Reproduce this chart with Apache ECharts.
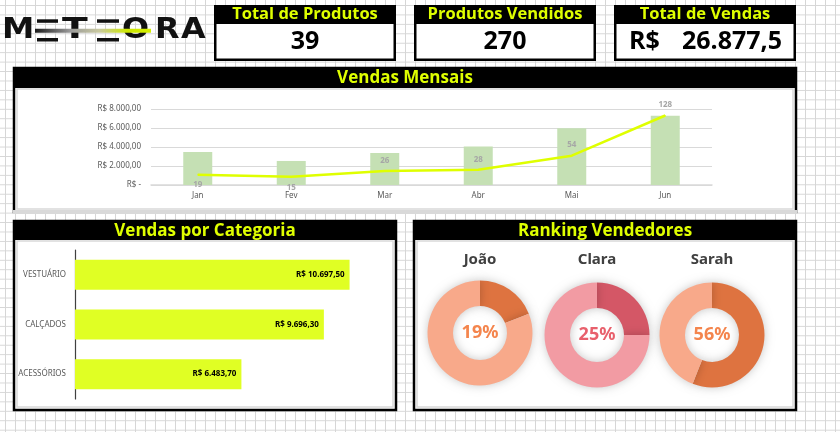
<!DOCTYPE html>
<html>
<head>
<meta charset="utf-8">
<script src="https://cdn.jsdelivr.net/npm/echarts@6/dist/echarts.min.js"></script>
<style>
html,body{margin:0;padding:0;}
#wrap{width:840px;height:432px;position:relative;background-color:#fff;
background-image:linear-gradient(to right,#d6d6d6 1px,transparent 1px),linear-gradient(to bottom,#d6d6d6 1px,transparent 1px);
background-size:10px 9.45px;background-position:5px 5px;}
#chart{width:840px;height:432px;position:absolute;left:0;top:0;}
</style>
</head>
<body>
<div id="wrap"><div id="chart"></div></div>
<script>
// ---- data ----
const kpiTitles = ['Total de Produtos', 'Produtos Vendidos', 'Total de Vendas'];
const kpiValues = ['39', '270', '26.877,5'];
const months = ['Jan', 'Fev', 'Mar', 'Abr', 'Mai', 'Jun'];
const monthlySales = [3480, 2530, 3370, 4040, 5970, 7300];
const monthlyQty = [19, 15, 26, 28, 54, 128];
const salesTicks = [0, 2000, 4000, 6000, 8000];
const categories = ['VESTUÁRIO', 'CALÇADOS', 'ACESSÓRIOS'];
const categorySales = [10697.5, 9696.3, 6483.7];
const sellers = ['João', 'Clara', 'Sarah'];
const sellerShare = [19, 25, 56];

// ---- helpers ----
function brl(v, dec) {
  const fixed = v.toFixed(dec);
  let [i, d] = fixed.split('.');
  i = i.replace(/\B(?=(\d{3})+(?!\d))/g, '.');
  return d ? i + ',' + d : i;
}
const YEL = '#DFFF00';
const HEAD_FONT = '"Open Sans", sans-serif';
const LBL_FONT = '"Noto Sans", "Liberation Sans", sans-serif';

const graphics = [];
// KPI boxes
const kpiBoxes = [[214, 182], [414, 182], [614, 182]];
kpiBoxes.forEach(([x, w], i) => {
  graphics.push({type: 'rect', shape: {x: x, y: 5, width: w, height: 56}, style: {fill: '#000'}});
  graphics.push({type: 'rect', shape: {x: x + 2.5, y: 24, width: w - 5, height: 34.5}, style: {fill: '#fff'}});
  graphics.push({type: 'text', x: x + w / 2, y: 14.5, style: {text: kpiTitles[i], fill: YEL, font: 'bold 16.5px ' + HEAD_FONT, align: 'center', verticalAlign: 'middle'}});
});
graphics.push({type: 'text', x: 305, y: 42, style: {text: kpiValues[0], fill: '#000', font: 'bold 25px ' + HEAD_FONT, align: 'center', verticalAlign: 'middle'}});
graphics.push({type: 'text', x: 505, y: 42, style: {text: kpiValues[1], fill: '#000', font: 'bold 25px ' + HEAD_FONT, align: 'center', verticalAlign: 'middle'}});
graphics.push({type: 'text', x: 629, y: 42, style: {text: 'R$', fill: '#000', font: 'bold 25px ' + HEAD_FONT, align: 'left', verticalAlign: 'middle'}});
graphics.push({type: 'text', x: 782, y: 42, style: {text: kpiValues[2], fill: '#000', font: 'bold 25px ' + HEAD_FONT, align: 'right', verticalAlign: 'middle'}});

// Logo
const logoLetters = [['M', 2, 1.12], ['T', 62, 1.3], ['O', 122, 1.1], ['R', 155, 1.1], ['A', 181, 1.1]];
logoLetters.forEach(([ch, x, sx]) => {
  graphics.push({type: 'text', x: x, y: 30.5, scaleX: sx, style: {text: ch, fill: '#111', font: 'bold 29px "DejaVu Sans", sans-serif', align: 'left', verticalAlign: 'middle'}});
});
[[37, 21], [97, 22]].forEach(([x, w]) => {
  graphics.push({type: 'rect', shape: {x: x, y: 19.3, width: w, height: 3.5}, style: {fill: '#111'}});
  graphics.push({type: 'rect', shape: {x: x, y: 38, width: w, height: 3.5}, style: {fill: '#111'}});
});
graphics.push({type: 'rect', shape: {x: 35, y: 28.8, width: 116, height: 4}, style: {
  fill: new echarts.graphic.LinearGradient(0, 0, 1, 0, [
    {offset: 0, color: '#1a1a1a'}, {offset: 0.3, color: '#9a9a9a'}, {offset: 0.55, color: '#c8c8a0'}, {offset: 0.8, color: '#cde800'}, {offset: 1, color: '#d4ef00'}])}});

// Section panels
function panel(x, y, w, h, title, bandH, bottomColor) {
  graphics.push({type: 'rect', shape: {x: x, y: y, width: w, height: h}, style: {fill: '#fff', stroke: '#000', lineWidth: 2.5}});
  graphics.push({type: 'rect', shape: {x: x + 3, y: y + bandH + 1, width: w - 6, height: h - bandH - 4}, style: {fill: '#fff', stroke: '#d9d9d9', lineWidth: 1.5}});
  if (bottomColor) graphics.push({type: 'rect', shape: {x: x - 1, y: y + h - 2, width: w + 2, height: 4}, style: {fill: bottomColor}});
  graphics.push({type: 'rect', shape: {x: x, y: y, width: w, height: bandH}, style: {fill: '#000'}});
  graphics.push({type: 'text', x: x + w / 2, y: y + bandH / 2 + 0.5, style: {text: title, fill: YEL, font: 'bold 17px ' + HEAD_FONT, align: 'center', verticalAlign: 'middle'}});
}
panel(14, 68, 782, 144, 'Vendas Mensais', 20, '#d9d9d9');
panel(14, 221, 382, 189, 'Vendas por Categoria', 19, null);
panel(414, 221, 382, 189, 'Ranking Vendedores', 19, null);

// seller names
const pieCenters = [[480, 333], [597, 335], [712, 335]];
sellers.forEach((s, i) => {
  graphics.push({type: 'text', x: pieCenters[i][0], y: 260, style: {text: s, fill: '#404040', font: 'bold 15px ' + LBL_FONT, align: 'center', verticalAlign: 'middle'}});
});

const pieColors = [['#DE7340', '#F8A98A'], ['#D45766', '#F29BA3'], ['#DE7340', '#F8A98A']];
const pieTextColors = ['#F4854D', '#E8606C', '#F4854D'];
const pies = sellers.map((s, i) => ({
  type: 'pie', center: pieCenters[i], radius: [27, 52.5], startAngle: 90, clockwise: true,
  silent: true, animation: false, z: 3,
  itemStyle: {shadowBlur: 10, shadowColor: 'rgba(0,0,0,0.22)', borderWidth: 0},
  labelLine: {show: false},
  data: [
    {value: sellerShare[i], name: s, itemStyle: {color: pieColors[i][0]},
     label: {show: true, position: 'center', formatter: sellerShare[i] + '%', color: pieTextColors[i], fontSize: 18, fontWeight: 'bold', fontFamily: LBL_FONT}},
    {value: 100 - sellerShare[i], name: 'Outros', itemStyle: {color: pieColors[i][1]}, label: {show: false}}
  ]
}));

const qtyLabelPos = ['bottom', 'bottom', 'top', 'top', 'top', 'top'];

const option = {
  animation: false,
  graphic: {elements: graphics},
  grid: [
    {left: 151, right: 128, top: 109, bottom: 247},
    {left: 75, right: 457, top: 250, bottom: 33}
  ],
  xAxis: [
    {type: 'category', gridIndex: 0, data: months, z: 1,
     axisLine: {lineStyle: {color: '#d9d9d9', width: 1.5}}, axisTick: {show: false},
     axisLabel: {color: '#595959', fontSize: 8, fontFamily: LBL_FONT, margin: 7}},
    {type: 'value', gridIndex: 1, min: 0, max: 12000, show: false}
  ],
  yAxis: [
    {type: 'value', gridIndex: 0, min: 0, max: 8000, interval: 2000, z: 1,
     axisLine: {show: false}, axisTick: {show: false},
     splitLine: {lineStyle: {color: '#d9d9d9', width: 1.2}},
     axisLabel: {color: '#595959', fontSize: 8, fontFamily: LBL_FONT, margin: 10,
       formatter: v => v === 0 ? 'R$ -' : 'R$ ' + brl(v, 2)}},
    {type: 'value', gridIndex: 0, min: 0, max: 140, show: false},
    {type: 'category', gridIndex: 1, data: categories, inverse: true, z: 1,
     axisLine: {lineStyle: {color: '#404040', width: 1.2}}, axisTick: {show: false},
     axisLabel: {color: '#595959', fontSize: 8, fontFamily: LBL_FONT, margin: 9}}
  ],
  series: [
    {type: 'bar', xAxisIndex: 0, yAxisIndex: 0, data: monthlySales, barWidth: 29,
     itemStyle: {color: '#C5E0B4'}, silent: true},
    {type: 'line', xAxisIndex: 0, yAxisIndex: 1, z: 4,
     data: monthlyQty.map((v, i) => ({value: v, label: {position: qtyLabelPos[i]}})),
     symbol: 'circle', symbolSize: 1, showSymbol: true,
     lineStyle: {color: YEL, width: 2.5}, itemStyle: {color: YEL},
     label: {show: true, color: '#a6a6a6', fontSize: 8, fontWeight: 'bold', fontFamily: LBL_FONT, distance: 6}},
    {type: 'bar', xAxisIndex: 1, yAxisIndex: 2, data: categorySales, barWidth: 30,
     itemStyle: {color: '#E0FF24'}, silent: true,
     label: {show: true, position: 'insideRight', distance: 5, color: '#000', fontSize: 8, fontWeight: 'bold', fontFamily: LBL_FONT,
       formatter: p => 'R$ ' + brl(p.value, 2)}},
    ...pies
  ]
};
const chart = echarts.init(document.getElementById('chart'), null, {renderer: 'canvas'});
chart.setOption(option);
</script>
</body>
</html>
